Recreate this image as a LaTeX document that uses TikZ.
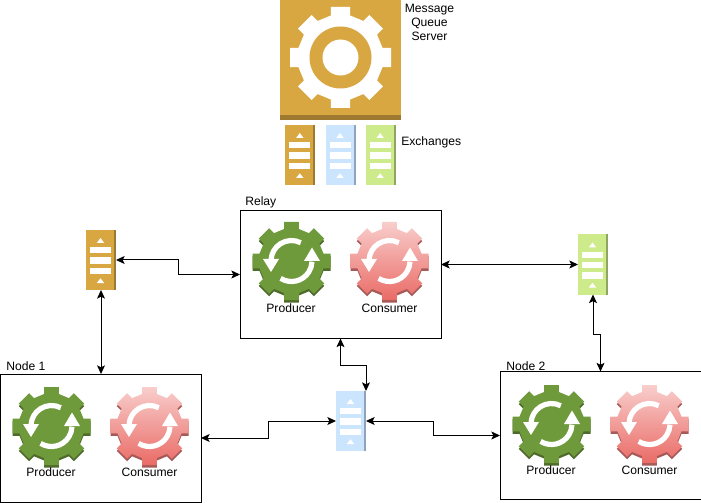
\documentclass[tikz,border=0pt]{standalone}
\usepackage{fontspec}
\setmainfont{Liberation Sans}
\usetikzlibrary{arrows.meta}

\definecolor{amber}{HTML}{D9A741}
\definecolor{amberdark}{HTML}{9D7A30}
\definecolor{leaf}{HTML}{6F9A3C}
\definecolor{leafdark}{HTML}{4F6B2B}
\definecolor{sky}{HTML}{CCE5FF}
\definecolor{skydark}{HTML}{8FA3BC}
\definecolor{lime}{HTML}{CDEB8B}
\definecolor{limedark}{HTML}{8FA561}
\definecolor{rosetop}{HTML}{F8CECC}
\definecolor{rosebottom}{HTML}{EA6B66}
\definecolor{rosedark}{HTML}{A65A57}

\tikzset{
    label/.style={font=\fontsize{9.1pt}{10.5pt}\selectfont, inner sep=0pt},
    hostbox/.style={draw=black, line width=0.75pt, minimum width=150.75pt, minimum height=96pt, inner sep=0pt, outer sep=0pt},
    exbox/.style={minimum width=22.5pt, minimum height=45pt, inner sep=0pt, outer sep=0pt},
    link/.style={<->, >={Stealth[length=6.5pt,width=6pt,inset=1.5pt]}, line width=0.75pt},
}

% outline of a toothed wheel: #1 tooth half width, #2 root radius, #3 tip radius
\newcommand{\wheelpath}[3]{([rotate=-45]#2,#1) foreach \a in {0,45,...,315} {
    -- ([rotate=\a]#2,-#1) -- ([rotate=\a]#3,-#1) -- ([rotate=\a]#3,#1) -- ([rotate=\a]#2,#1)} -- cycle}

% #1 x, #2 y, #3 edge colour, #4 options of the face
\newcommand{\syncgear}[4]{
    \begin{scope}[shift={(#1,#2)}]
        \fill[#3, shift={(0,-2.5)}] \wheelpath{7.4}{32}{39};
        \path[#4] \wheelpath{7.4}{32}{39};
        \draw[white, line width=3.9pt] (63:20.5) arc (63:176:20.5);
        \fill[white] (-28.5,2) -- (-12.5,2) -- (-20.5,-11) -- cycle;
        \draw[white, line width=3.9pt] (238:20.5) arc (238:358:20.5);
        \fill[white] (28.5,0) -- (12.5,0) -- (20.5,13.5) -- cycle;
    \end{scope}
}

% #1 name, #2 x, #3 y, #4 fill, #5 edge colour
\newcommand{\exchange}[5]{
    \node[exbox, fill=#4] (#1) at (#2,#3) {};
    \begin{scope}[shift={(#2,#3)}]
        \fill[#5] (13,-30) rectangle (15,30);
        \fill[white] (-11,6.7) rectangle (10,12.7);
        \fill[white] (-11,-3.7) rectangle (10,2.7);
        \fill[white] (-11,-14) rectangle (10,-7.7);
        \fill[white] (-4.2,17) -- (3.2,17) -- (-0.5,22) -- cycle;
        \fill[white] (-4.2,-23) -- (3.2,-23) -- (-0.5,-18.3) -- cycle;
    \end{scope}
}

\begin{document}
\begin{tikzpicture}[x=0.75pt,y=0.75pt]
    \useasboundingbox (0,0) rectangle (701,-503);

    % server
    \fill[amber] (280,0) rectangle (400.5,-120);
    \fill[amberdark] (280,-115) rectangle (400.5,-120);
    \fill[white, shift={(340.5,-57.5)}] \wheelpath{9.7}{42}{50.5};
    \fill[amber] (340.5,-57.5) circle (31);
    \fill[white] (340.5,-57.5) circle (18);
    \node[label, align=center] (server) at (429.5,-22) {Message\\Queue\\Server};

    % exchanges
    \exchange{exTopA}{300.3}{-155}{amber}{amberdark}
    \exchange{exTopB}{340.5}{-155}{sky}{skydark}
    \exchange{exTopC}{380.7}{-155}{lime}{limedark}
    \node[label, anchor=west] (exchanges) at (401,-142) {Exchanges};

    \exchange{exA}{101}{-260}{amber}{amberdark}
    \exchange{exB}{351}{-421}{sky}{skydark}
    \exchange{exC}{593}{-264.5}{lime}{limedark}

    % hosts
    \node[hostbox] (relay) at (340.5,-274.5) {};
    \node[label, anchor=west] (relaylabel) at (245,-202) {Relay};
    \syncgear{291.5}{-261}{leafdark}{fill=leaf}
    \syncgear{389.5}{-261}{rosedark}{top color=rosetop, bottom color=rosebottom}
    \node[label] (relayprod) at (291,-308) {Producer};
    \node[label] (relaycons) at (389.5,-308) {Consumer};

    \node[hostbox] (nodeA) at (100.5,-438) {};
    \node[label, anchor=west] (nodeAlabel) at (6,-366) {Node 1};
    \syncgear{51.5}{-426}{leafdark}{fill=leaf}
    \syncgear{149.5}{-426}{rosedark}{top color=rosetop, bottom color=rosebottom}
    \node[label] (nodeAprod) at (51,-472) {Producer};
    \node[label] (nodeAcons) at (149.5,-472) {Consumer};

    \node[hostbox] (nodeB) at (600.5,-435.5) {};
    \node[label, anchor=west] (nodeBlabel) at (506,-366) {Node 2};
    \syncgear{551.5}{-424}{leafdark}{fill=leaf}
    \syncgear{649.5}{-424}{rosedark}{top color=rosetop, bottom color=rosebottom}
    \node[label] (nodeBprod) at (551,-470) {Producer};
    \node[label] (nodeBcons) at (649.5,-470) {Consumer};

    % links
    \draw[link] (exA.east) -- ++(62,0) |- (relay.west);
    \draw[link] (exA.south) -- (exA.south |- nodeA.north);
    \draw[link] (relay.east |- exC.west) -- (exC.west);
    \draw[link] (exC.south) -- ++(0,-40) -| (nodeB.north);
    \draw[link] (relay.south) -- ++(0,-27) -| (exB.north east);
    \draw[link] (nodeA.east) -- ++(67,0) |- (exB.west);
    \draw[link] (exB.east) -- ++(67,0) |- (nodeB.west);
\end{tikzpicture}
\end{document}
